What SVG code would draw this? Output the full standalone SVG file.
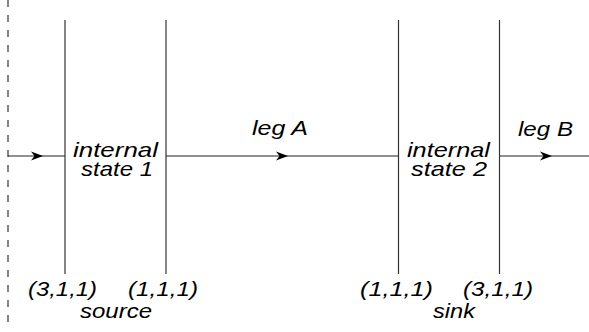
<svg xmlns="http://www.w3.org/2000/svg" width="589" height="332" viewBox="0 0 589 332">
<style>
.t{font-family:"Liberation Sans",Arial,sans-serif;font-style:italic;font-size:21px;fill:#000}
.v{stroke:#333;stroke-width:1.2;fill:none}
.c{stroke:#222;stroke-width:1.2;fill:none}
</style>
<defs>
<marker id="ah" viewBox="-13 -5 14 10" markerWidth="14" markerHeight="10" refX="0" refY="0" orient="auto" markerUnits="userSpaceOnUse">
<path d="M0,0 L-12,-4.5 L-8.5,0 L-12,4.5 Z" fill="#000"/>
</marker>
</defs>
<rect width="589" height="332" fill="#fff"/>
<g id="boundary">
<line x1="8" y1="0" x2="8" y2="326" stroke="#333" stroke-width="1.2" stroke-dasharray="7 8"/>
</g>
<g id="connectors">
<path class="c" d="M8,156 L43,156 L65,156" marker-mid="url(#ah)"/>
<path class="c" d="M166,156 L288,156 L398,156" marker-mid="url(#ah)"/>
<path class="c" d="M499,156 L552,156 L589,156" marker-mid="url(#ah)"/>
<text class="t" x="252" y="135" textLength="56" lengthAdjust="spacingAndGlyphs">leg A</text>
<text class="t" x="518" y="135.5" textLength="55" lengthAdjust="spacingAndGlyphs">leg B</text>
</g>
<g id="state1">
<line class="v" x1="65" y1="20" x2="65" y2="274"/>
<line class="v" x1="166" y1="20" x2="166" y2="274"/>
<text class="t" x="73" y="156.5" textLength="85" lengthAdjust="spacingAndGlyphs">internal</text>
<text class="t" x="81" y="175.5" textLength="72" lengthAdjust="spacingAndGlyphs">state 1</text>
<text class="t" x="28" y="296" textLength="69" lengthAdjust="spacingAndGlyphs">(3,1,1)</text>
<text class="t" x="128" y="296" textLength="70" lengthAdjust="spacingAndGlyphs">(1,1,1)</text>
<text class="t" x="80" y="318" textLength="72" lengthAdjust="spacingAndGlyphs">source</text>
</g>
<g id="state2">
<line class="v" x1="398.5" y1="20" x2="398.5" y2="274"/>
<line class="v" x1="499.5" y1="20" x2="499.5" y2="274"/>
<text class="t" x="407" y="156.5" textLength="83" lengthAdjust="spacingAndGlyphs">internal</text>
<text class="t" x="411" y="176" textLength="76" lengthAdjust="spacingAndGlyphs">state 2</text>
<text class="t" x="360" y="296" textLength="73" lengthAdjust="spacingAndGlyphs">(1,1,1)</text>
<text class="t" x="463" y="296" textLength="70" lengthAdjust="spacingAndGlyphs">(3,1,1)</text>
<text class="t" x="433" y="318" textLength="42" lengthAdjust="spacingAndGlyphs">sink</text>
</g>
</svg>
